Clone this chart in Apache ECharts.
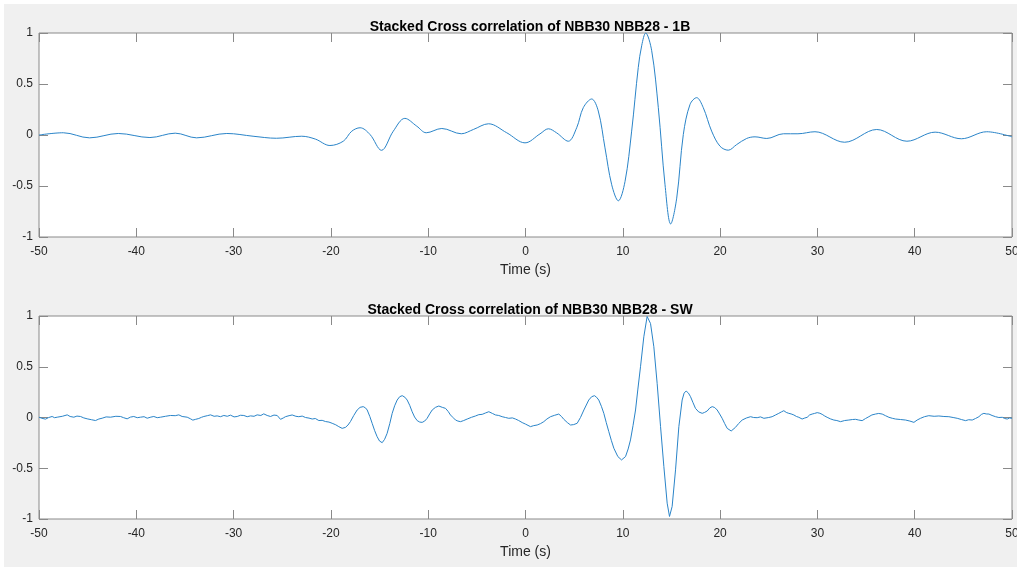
<!DOCTYPE html>
<html>
<head>
<meta charset="utf-8">
<title>Stacked Cross correlation of NBB30 NBB28</title>
<script src="https://cdn.jsdelivr.net/npm/echarts@6/dist/echarts.min.js"></script>
<style>
  html, body { margin: 0; padding: 0; background: #ffffff; }
  #chart { width: 1017px; height: 567px; }
</style>
</head>
<body>
<div id="chart"></div>
<script>
// Lag times (s) and normalised correlation amplitude, 1B component
const times1B = [-50, -47.5, -44.8, -41.85, -38.6, -36.0, -33.8, -30.7, -28.0, -25.6,
  -23.0, -21.6, -20.1, -18.73, -17.86, -17.0, -15.98, -14.8, -13.59, -12.4,
  -11.18, -10.2, -8.6, -6.6, -5.36, -3.8, -1.93, -0.05, 1.49, 2.35,
  3.2, 4.4, 5.26, 5.94, 6.8, 7.48, 8.17, 8.86, 9.54, 10.23,
  10.91, 11.59, 11.95, 12.35, 12.97, 13.65, 14.34, 14.92, 15.54, 16.22,
  16.91, 17.59, 18.27, 19.13, 19.99, 20.84, 21.7, 22.73, 23.59, 24.8,
  26.5, 28.0, 29.75, 32.8, 36.1, 39.2, 42.1, 44.8, 47.4, 50];
const values1B = [0.0, 0.022, -0.028, 0.015, -0.025, 0.018, -0.028, 0.015, -0.012, -0.032,
  -0.012, -0.04, -0.103, -0.061, 0.037, 0.071, 0.005, -0.15, 0.037, 0.163,
  0.087, 0.022, 0.064, 0.012, 0.054, 0.11, 0.022, -0.077, 0.011, 0.061,
  0.021, -0.061, 0.071, 0.268, 0.353, 0.235, -0.126, -0.488, -0.645, -0.455,
  0.038, 0.662, 0.88, 1.0, 0.826, 0.268, -0.488, -0.872, -0.619, 0.005,
  0.3, 0.366, 0.268, 0.038, -0.11, -0.149, -0.094, -0.034, -0.018, -0.034,
  0.012, 0.012, 0.032, -0.071, 0.054, -0.061, 0.028, -0.037, 0.032, -0.018];

// Lag time (s), amplitude pairs for the SW component (unsmoothed stack)
const traceSW = [
  [-50.0, 0.003], [-49.7, -0.008], [-49.33, -0.016], [-49.0, 0.0], [-48.65, 0.01], [-48.4, -0.002],
  [-48.13, 0.003], [-47.6, 0.012], [-47.1, 0.026], [-46.8, 0.01], [-46.42, 0.003], [-46.1, 0.014],
  [-45.73, 0.01], [-45.4, -0.004], [-45.05, -0.013], [-44.6, -0.022], [-44.19, -0.03], [-43.85, -0.015],
  [-43.51, -0.007], [-43.1, 0.006], [-42.65, 0.003], [-42.1, 0.012], [-41.62, 0.01], [-41.3, -0.002],
  [-40.94, -0.013], [-40.6, 0.004], [-40.26, 0.01], [-39.9, -0.002], [-39.57, 0.003], [-39.2, 0.008],
  [-38.88, -0.007], [-38.5, 0.004], [-38.2, 0.01], [-37.85, -0.002], [-37.51, 0.003], [-37.0, 0.012],
  [-36.49, 0.02], [-36.0, 0.018], [-35.63, 0.026], [-35.29, 0.01], [-34.77, 0.003], [-34.45, -0.012],
  [-34.19, -0.026], [-33.9, -0.018], [-33.58, -0.01], [-33.3, 0.002], [-33.06, 0.01], [-32.7, 0.018],
  [-32.37, 0.026], [-32.0, 0.012], [-31.69, 0.016], [-31.35, 0.008], [-31.0, 0.02], [-30.65, 0.012],
  [-30.32, 0.023], [-29.95, 0.006], [-29.63, 0.01], [-29.3, 0.022], [-28.95, 0.02], [-28.6, 0.008],
  [-28.26, 0.016], [-27.9, 0.012], [-27.58, 0.026], [-27.2, 0.02], [-26.9, 0.036], [-26.55, 0.02],
  [-26.21, 0.01], [-25.85, 0.024], [-25.52, 0.02], [-25.18, -0.018], [-24.9, -0.005], [-24.67, 0.008],
  [-24.3, 0.018], [-23.98, 0.025], [-23.6, 0.012], [-23.3, 0.008], [-22.95, 0.014], [-22.61, 0.0],
  [-22.25, -0.006], [-21.92, -0.015], [-21.6, -0.01], [-21.24, -0.03], [-20.9, -0.028], [-20.55, -0.04],
  [-20.2, -0.045], [-19.87, -0.057], [-19.5, -0.072], [-19.19, -0.09], [-18.84, -0.107], [-18.5, -0.097],
  [-18.25, -0.075], [-17.99, -0.04], [-17.65, 0.02], [-17.3, 0.074], [-17.0, 0.1], [-16.68, 0.107],
  [-16.45, 0.095], [-16.27, 0.074], [-16.0, 0.01], [-15.76, -0.057], [-15.5, -0.13], [-15.25, -0.189],
  [-15.0, -0.232], [-14.73, -0.248], [-14.48, -0.215], [-14.22, -0.156], [-13.95, -0.06], [-13.7, 0.041],
  [-13.45, 0.115], [-13.19, 0.172], [-12.93, 0.205], [-12.67, 0.215], [-12.4, 0.2], [-12.16, 0.172],
  [-11.9, 0.12], [-11.65, 0.057], [-11.4, 0.005], [-11.13, -0.031], [-10.87, -0.045], [-10.62, -0.048],
  [-10.36, -0.035], [-10.11, -0.008], [-9.85, 0.035], [-9.59, 0.074], [-9.25, 0.1], [-8.91, 0.113],
  [-8.55, 0.1], [-8.22, 0.09], [-7.95, 0.06], [-7.71, 0.025], [-7.45, 0.0], [-7.19, -0.025],
  [-6.95, -0.035], [-6.68, -0.041], [-6.35, -0.03], [-5.99, -0.015], [-5.55, 0.002], [-5.14, 0.015],
  [-4.8, 0.028], [-4.45, 0.031], [-4.1, 0.045], [-3.77, 0.057], [-3.4, 0.04], [-3.08, 0.025],
  [-2.75, 0.02], [-2.4, 0.008], [-2.05, 0.0], [-1.72, -0.008], [-1.35, -0.004], [-1.03, -0.015],
  [-0.7, -0.03], [-0.34, -0.05], [0.0, -0.065], [0.51, -0.09], [0.85, -0.08], [1.2, -0.074],
  [1.55, -0.06], [1.88, -0.041], [2.2, -0.015], [2.57, 0.008], [3.0, 0.022], [3.42, 0.034],
  [3.7, 0.01], [3.94, -0.018], [4.3, -0.05], [4.63, -0.074], [4.95, -0.07], [5.31, -0.057],
  [5.65, 0.0], [6.0, 0.074], [6.5, 0.172], [6.8, 0.205], [7.09, 0.215], [7.3, 0.2],
  [7.53, 0.172], [7.8, 0.11], [8.05, 0.041], [8.3, -0.05], [8.56, -0.139], [8.82, -0.225],
  [9.08, -0.303], [9.49, -0.385], [9.87, -0.418], [10.28, -0.385], [10.55, -0.31], [10.79, -0.221],
  [11.05, -0.08], [11.31, 0.074], [11.55, 0.28], [11.82, 0.5], [12.16, 0.795], [12.5, 0.995],
  [12.85, 0.926], [13.19, 0.697], [13.53, 0.336], [13.88, -0.09], [14.22, -0.484], [14.56, -0.844],
  [14.8, -0.975], [15.07, -0.877], [15.42, -0.516], [15.76, -0.09], [16.1, 0.172], [16.3, 0.24],
  [16.51, 0.261], [16.75, 0.24], [16.96, 0.205], [17.2, 0.15], [17.47, 0.09], [17.8, 0.055],
  [18.16, 0.041], [18.4, 0.05], [18.67, 0.064], [18.95, 0.095], [19.19, 0.107], [19.45, 0.098],
  [19.7, 0.074], [19.95, 0.035], [20.21, -0.008], [20.47, -0.06], [20.73, -0.107], [21.14, -0.133],
  [21.58, -0.097], [21.9, -0.06], [22.27, -0.025], [22.7, -0.005], [23.13, 0.008], [23.45, 0.0],
  [23.81, -0.002], [24.15, 0.006], [24.5, -0.008], [24.66, -0.015], [25.0, 0.0], [25.35, 0.008],
  [25.7, 0.025], [26.03, 0.041], [26.3, 0.055], [26.55, 0.067], [26.8, 0.05], [27.06, 0.041],
  [27.3, 0.035], [27.58, 0.025], [27.85, 0.01], [28.09, 0.002], [28.43, -0.015], [28.7, -0.005],
  [28.95, 0.002], [29.2, 0.025], [29.46, 0.034], [29.7, 0.04], [29.98, 0.048], [30.25, 0.042],
  [30.49, 0.031], [30.75, 0.015], [31.0, 0.002], [31.35, -0.014], [31.69, -0.025], [32.0, -0.03],
  [32.38, -0.041], [32.8, -0.03], [33.23, -0.025], [33.6, -0.02], [33.92, -0.018], [34.25, -0.025],
  [34.6, -0.031], [34.95, -0.01], [35.29, 0.008], [35.6, 0.025], [35.97, 0.034], [36.3, 0.04],
  [36.66, 0.034], [37.0, 0.018], [37.35, 0.002], [37.7, -0.008], [38.03, -0.015], [38.55, -0.02],
  [39.06, -0.025], [39.5, -0.035], [39.92, -0.048], [40.25, -0.025], [40.6, -0.008], [41.0, 0.008],
  [41.45, 0.018], [42.0, 0.012], [42.48, 0.015], [43.0, 0.01], [43.51, 0.008], [43.95, 0.0],
  [44.37, -0.008], [44.8, -0.02], [45.23, -0.031], [45.55, -0.022], [45.91, -0.025], [46.25, -0.01],
  [46.6, 0.008], [46.85, 0.03], [47.11, 0.041], [47.35, 0.035], [47.63, 0.034], [47.95, 0.02],
  [48.31, 0.008], [48.65, 0.0], [49.0, 0.002], [49.25, -0.01], [49.51, -0.015], [49.75, -0.005],
  [50.0, -0.008]
];

const titles = ['Stacked Cross correlation of NBB30 NBB28 - 1B',
                'Stacked Cross correlation of NBB30 NBB28 - SW'];
const xLabel = 'Time (s)';
const xRange = [-50, 50, 10];     // min, max, tick step
const yRange = [-1, 1, 0.5];

const trace1B = times1B.map((t, i) => [t, values1B[i]]);

const FONT = '"Liberation Sans", Arial, Helvetica, sans-serif';
const AXIS_GREY = '#8a8a8a';
const TEXT = '#262626';
const LINE = '#2a84c8';

const grids = [
  { left: 39, right: 5, top: 33, height: 204 },
  { left: 39, right: 5, top: 316, height: 203 }
].map(g => Object.assign({
  show: true, backgroundColor: '#ffffff', borderColor: AXIS_GREY, borderWidth: 1,
  containLabel: false, outerBoundsMode: 'none'
}, g));

function xAxisFor(gridIndex, position, labelled) {
  return {
    type: 'value', gridIndex, position,
    min: xRange[0], max: xRange[1], interval: xRange[2],
    axisLine: { show: false, onZero: false },
    axisTick: { show: true, inside: true, length: 9, lineStyle: { color: AXIS_GREY, width: 1 } },
    axisLabel: { show: labelled, color: TEXT, fontFamily: FONT, fontSize: 12, margin: 9 },
    splitLine: { show: false },
    name: labelled ? xLabel : '',
    nameLocation: 'middle', nameGap: 26,
    nameTextStyle: { color: TEXT, fontFamily: FONT, fontSize: 14 }
  };
}
function yAxisFor(gridIndex, position, labelled) {
  return {
    type: 'value', gridIndex, position,
    min: yRange[0], max: yRange[1], interval: yRange[2],
    axisLine: { show: false, onZero: false },
    axisTick: { show: true, inside: true, length: 9, lineStyle: { color: AXIS_GREY, width: 1 } },
    axisLabel: { show: labelled, color: TEXT, fontFamily: FONT, fontSize: 12, margin: 6 },
    splitLine: { show: false }
  };
}

const chart = echarts.init(document.getElementById('chart'), null, { renderer: 'canvas' });
chart.setOption({
  backgroundColor: '#f0f0f0',
  animation: false,
  graphic: [
    { type: 'rect', shape: { x: 0, y: 0, width: 1017, height: 4 }, style: { fill: '#ffffff' }, silent: true },
    { type: 'rect', shape: { x: 0, y: 0, width: 4, height: 567 }, style: { fill: '#ffffff' }, silent: true }
  ],
  title: [
    { text: titles[0], left: 525, top: 15, textAlign: 'center',
      textStyle: { fontFamily: FONT, fontSize: 14, fontWeight: 'bold', color: '#000' } },
    { text: titles[1], left: 525, top: 298, textAlign: 'center',
      textStyle: { fontFamily: FONT, fontSize: 14, fontWeight: 'bold', color: '#000' } }
  ],
  grid: grids,
  xAxis: [
    xAxisFor(0, 'bottom', true), xAxisFor(0, 'top', false),
    xAxisFor(1, 'bottom', true), xAxisFor(1, 'top', false)
  ],
  yAxis: [
    yAxisFor(0, 'left', true), yAxisFor(0, 'right', false),
    yAxisFor(1, 'left', true), yAxisFor(1, 'right', false)
  ],
  series: [
    { type: 'line', xAxisIndex: 0, yAxisIndex: 0, data: trace1B, smooth: 0.35,
      showSymbol: false, lineStyle: { color: LINE, width: 1 } },
    { type: 'line', xAxisIndex: 2, yAxisIndex: 2, data: traceSW, smooth: false,
      showSymbol: false, lineStyle: { color: LINE, width: 1 } }
  ]
});
</script>
</body>
</html>
